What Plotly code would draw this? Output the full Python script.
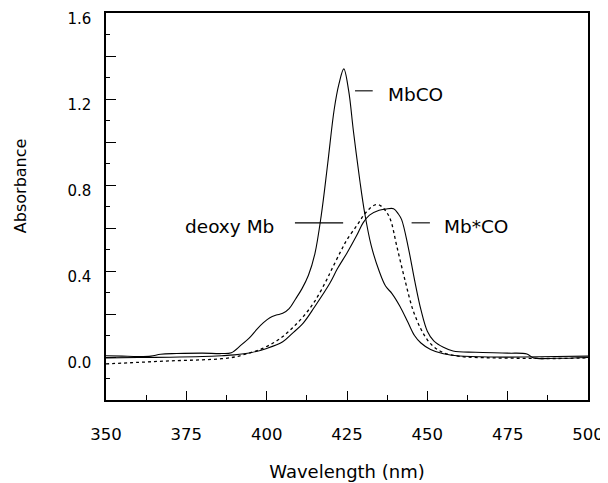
import plotly.graph_objects as go

# ---- data ----
mbco_x = [350, 355, 360, 364, 367, 372, 380, 386, 389, 392, 395, 397, 399, 401, 403, 405, 407, 409, 411, 413,
          415, 417, 419, 421, 422.5, 424, 425.5, 427, 429, 430.5, 432.5, 435, 437, 439, 441.5, 444, 446, 448,
          451, 455, 460, 470, 480, 490, 500]
mbco_y = [0.006, 0.004, 0.002, 0.004, 0.013, 0.016, 0.018, 0.016, 0.02, 0.055, 0.095, 0.13, 0.16, 0.183, 0.195,
          0.203, 0.225, 0.27, 0.318, 0.38, 0.48, 0.66, 0.90, 1.15, 1.27, 1.34, 1.24, 1.05, 0.82, 0.67, 0.52, 0.40,
          0.33, 0.295, 0.235, 0.16, 0.10, 0.065, 0.035, 0.015, 0.005, 0.0, 0.0, 0.002, 0.004]

deoxy_x = [350, 360, 370, 380, 386, 390, 394, 398, 402, 405, 408, 411.5, 415, 418.7, 420, 423, 425, 428, 430, 432,
           434, 435.5, 437, 438.5, 440.5, 443, 445.5, 448, 450, 452, 455, 460, 470, 480, 490, 500]
deoxy_y = [-0.032, -0.025, -0.018, -0.013, -0.008, 0.0, 0.016, 0.035, 0.065, 0.095, 0.135, 0.19, 0.26, 0.36, 0.40,
           0.49, 0.546, 0.61, 0.655, 0.69, 0.709, 0.703, 0.68, 0.64, 0.515, 0.36, 0.22, 0.13, 0.08, 0.048, 0.02,
           0.003, -0.004, -0.006, -0.007, -0.004]

mbstar_x = [350, 360, 370, 380, 386, 390, 395, 400, 405, 408, 411.5, 415, 419.7, 422, 425, 428, 430, 432, 435, 437,
            439.5, 441, 442, 444, 446, 448, 450, 452, 455, 458, 465, 475, 481, 483, 490, 500]
mbstar_y = [-0.004, -0.002, -0.001, 0.002, 0.006, 0.01, 0.02, 0.04, 0.071, 0.11, 0.16, 0.235, 0.344, 0.41, 0.484,
            0.565, 0.624, 0.66, 0.683, 0.688, 0.69, 0.665, 0.639, 0.515, 0.36, 0.22, 0.12, 0.075, 0.045, 0.028,
            0.022, 0.018, 0.014, -0.004, -0.006, -0.002]

x_tickvals = [350, 375, 400, 425, 450, 475, 500]
x_ticktext = ["350", "375", "400", "425", "450", "475", "500"]
y_tickvals = [-0.2, 0.0, 0.2, 0.4, 0.6, 0.8, 1.0, 1.2, 1.4, 1.6]
y_ticktext = ["", "0.0", "", "0.4", "", "0.8", "", "1.2", "", "1.6"]

# curve labels: text, text x, text y, anchor, leader x0, leader x1, leader y
labels = [
    ("MbCO", 437.0, 1.22, "left", 427.5, 433.0, 1.238),
    ("Mb*CO", 454.6, 0.608, "left", 445.1, 450.8, 0.624),
    ("deoxy Mb", 403.0, 0.607, "right", 408.8, 423.8, 0.624),
]

FONT = "DejaVu Sans"

fig = go.Figure()
fig.add_trace(go.Scatter(x=mbco_x, y=mbco_y, mode="lines", name="MbCO",
                         line=dict(color="black", width=1.1), line_shape="spline"))
fig.add_trace(go.Scatter(x=deoxy_x, y=deoxy_y, mode="lines", name="deoxy Mb",
                         line=dict(color="black", width=1.3, dash="dot"), line_shape="spline"))
fig.add_trace(go.Scatter(x=mbstar_x, y=mbstar_y, mode="lines", name="Mb*CO",
                         line=dict(color="black", width=1.1), line_shape="spline"))

for text, tx, ty, anchor, lx0, lx1, ly in labels:
    fig.add_annotation(x=tx, y=ty, text=text, showarrow=False, xanchor=anchor, yanchor="middle",
                       font=dict(family=FONT, size=18.5, color="black"))
    fig.add_shape(type="line", x0=lx0, x1=lx1, y0=ly, y1=ly, xref="x", yref="y",
                  line=dict(color="black", width=1.1))

fig.add_annotation(text="Absorbance", xref="paper", yref="paper", x=-0.176, y=0.553,
                   textangle=-90, showarrow=False, xanchor="center", yanchor="middle",
                   font=dict(family=FONT, size=16, color="black"))

fig.update_layout(
    width=600, height=475,
    margin=dict(l=98, r=20, t=5, b=83, autoexpand=False),
    paper_bgcolor="white", plot_bgcolor="white",
    showlegend=False,
    font=dict(family=FONT, color="black"),
)
fig.update_xaxes(
    range=[350, 500], tickvals=x_tickvals, ticktext=x_ticktext, automargin=False,
    showgrid=False, zeroline=False, showline=True, mirror=True, linecolor="black", linewidth=1.5,
    ticks="inside", ticklen=9, tickwidth=1.2, tickcolor="black",
    minor=dict(dtick=12.5, tick0=350, ticks="inside", ticklen=5, tickwidth=1.2, tickcolor="black", showgrid=False),
    tickfont=dict(family=FONT, size=16.5, color="black"),
    ticklabelstandoff=18,
    title=dict(text="Wavelength (nm)", font=dict(family=FONT, size=18, color="black"), standoff=23),
)
fig.update_yaxes(
    range=[-0.2, 1.6], tickvals=y_tickvals, ticktext=y_ticktext, automargin=False,
    showgrid=False, zeroline=False, showline=True, mirror=True, linecolor="black", linewidth=1.5,
    ticks="inside", ticklen=10, tickwidth=1.2, tickcolor="black",
    minor=dict(dtick=0.1, tick0=0, ticks="inside", ticklen=4, tickwidth=1.2, tickcolor="black", showgrid=False),
    tickfont=dict(family=FONT, size=15, color="black"),
    ticklabelstandoff=10, ticklabelshift=6,
)

fig.write_html("out.html")
